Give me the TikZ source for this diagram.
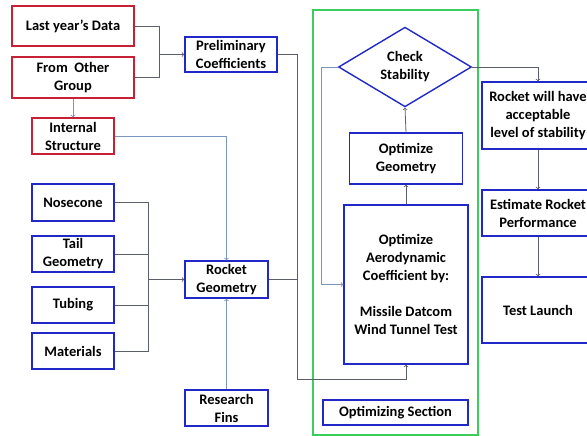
\documentclass[tikz,border=0pt]{standalone}
\usepackage{fontspec}
\setmainfont{Carlito}
\usetikzlibrary{positioning,shapes.geometric}
\definecolor{boxred}{RGB}{200,32,52}
\definecolor{boxblue}{RGB}{32,40,200}
\definecolor{framegreen}{RGB}{60,205,95}
\definecolor{linegray}{RGB}{90,95,105}
\definecolor{lineblue}{RGB}{125,150,190}

\begin{document}
\begin{tikzpicture}[x=1pt, y=-1pt,
                    every node/.style={font=\fontsize{14.5}{18}\selectfont\bfseries, align=center, inner sep=1pt},
                    redbox/.style={rectangle, draw=boxred, line width=1.4pt},
                    bluebox/.style={rectangle, draw=boxblue, line width=1.4pt},
                    checknode/.style={diamond, draw=boxblue, line width=1.4pt, inner sep=0pt, minimum width=133pt, minimum height=72pt},
                    link/.style={draw=linegray, line width=0.8pt},
                    lightlink/.style={draw=lineblue, line width=0.8pt},]
    \useasboundingbox (0,0) rectangle (587,436);
    \clip (0,0) rectangle (587,436);
    % nodes
    \node[redbox, minimum width=122pt, minimum height=40pt]   (lastyear)   at (73,26)                   {Last year’s Data};
    \node[redbox, minimum width=122pt, minimum height=41pt]   (othergroup) [below=9.6pt of lastyear]    {From~ Other\\Group};
    \node[redbox, minimum width=82pt, minimum height=36pt]    (internal)   [below=18.6pt of othergroup] {Internal\\Structure};
    \node[bluebox, minimum width=82pt, minimum height=37pt]   (nosecone)   [below=28.6pt of internal]   {Nosecone};
    \node[bluebox, minimum width=82pt, minimum height=36pt]   (tail)       [below=13.6pt of nosecone]   {Tail\\Geometry};
    \node[bluebox, minimum width=82pt, minimum height=36pt]   (tubing)     [below=13.6pt of tail]       {Tubing};
    \node[bluebox, minimum width=82pt, minimum height=36pt]   (materials)  [below=8.6pt of tubing]      {Materials};
    \node[bluebox, minimum width=92pt, minimum height=35pt]   (prelim)     at (231,54.5)                {Preliminary\\Coefficients};
    \node[bluebox, minimum width=83pt, minimum height=37pt]   (rocketgeo)  at (226.5,279.5)             {Rocket\\Geometry};
    \node[bluebox, minimum width=83pt, minimum height=36pt]   (fins)       [below=90.6pt of rocketgeo]  {Research\\Fins};
    \node[bluebox, minimum width=124pt, minimum height=159pt] (optaero)    at (406,284.5)               {Optimize\\Aerodynamic\\Coefficient by:\\[18pt]Missile Datcom\\Wind Tunnel Test};
    \node[bluebox, minimum width=113pt, minimum height=51pt]  (optgeo)     [above=19.6pt of optaero]    {Optimize\\Geometry};
    \node[checknode]                                          (check)      at (405,67)                  {Check\\Stability};
    \node[bluebox, minimum width=145pt, minimum height=25pt]  (optsection) at (395.5,412.5)             {Optimizing Section};
    \node[bluebox, minimum width=112pt, minimum height=67pt]  (stable)     at (538,115.5)               {Rocket will have\\acceptable\\level of stability};
    \node[bluebox, minimum width=112pt, minimum height=46pt]  (estimate)   [below=39.6pt of stable]     {Estimate Rocket\\Performance};
    \node[bluebox, minimum width=112pt, minimum height=66pt]  (launch)     [below=39.6pt of estimate]   {Test Launch};
    \draw[draw=framegreen, line width=1.4pt] (313,10) rectangle (478,435);
    % lines
    \coordinate (j1) at ([xshift=-25pt]prelim.west);
    \draw[link] (lastyear.east) -| (j1);
    \draw[link] (othergroup.east) -| (j1);
    \draw[link, ->] (j1) -- (prelim.west);
    \draw[lightlink, ->] (othergroup.south) -- (internal.north);
    \draw[lightlink, ->] (internal.east) -| (rocketgeo.north);
    \coordinate (j2) at ([xshift=-36pt]rocketgeo.west);
    \draw[link] (nosecone.east) -| (j2);
    \draw[link] (tail.east) -| (j2);
    \draw[link] (tubing.east) -| (j2);
    \draw[link] (materials.east) -| (j2);
    \draw[link, ->] (j2) -- (rocketgeo.west);
    \draw[lightlink, ->] (fins.north) -- (rocketgeo.south);
    \coordinate (j3) at (297,379);
    \draw[link, ->] (prelim.east) -| (j3) -| (optaero.south);
    \draw[link] (rocketgeo.east) -- (rocketgeo.east -| j3);
    \draw[link, ->] (optaero.north) -- (optgeo.south);
    \draw[link, ->] (optgeo.north) -- (check.south);
    \draw[lightlink, ->] (check.west) -- ++(-16,0) |- (optaero.west);
    \draw[link, ->] (check.east) -| (stable.north);
    \draw[link, ->] (stable.south) -- (estimate.north);
    \draw[link, ->] (estimate.south) -- (launch.north);
\end{tikzpicture}
\end{document}
